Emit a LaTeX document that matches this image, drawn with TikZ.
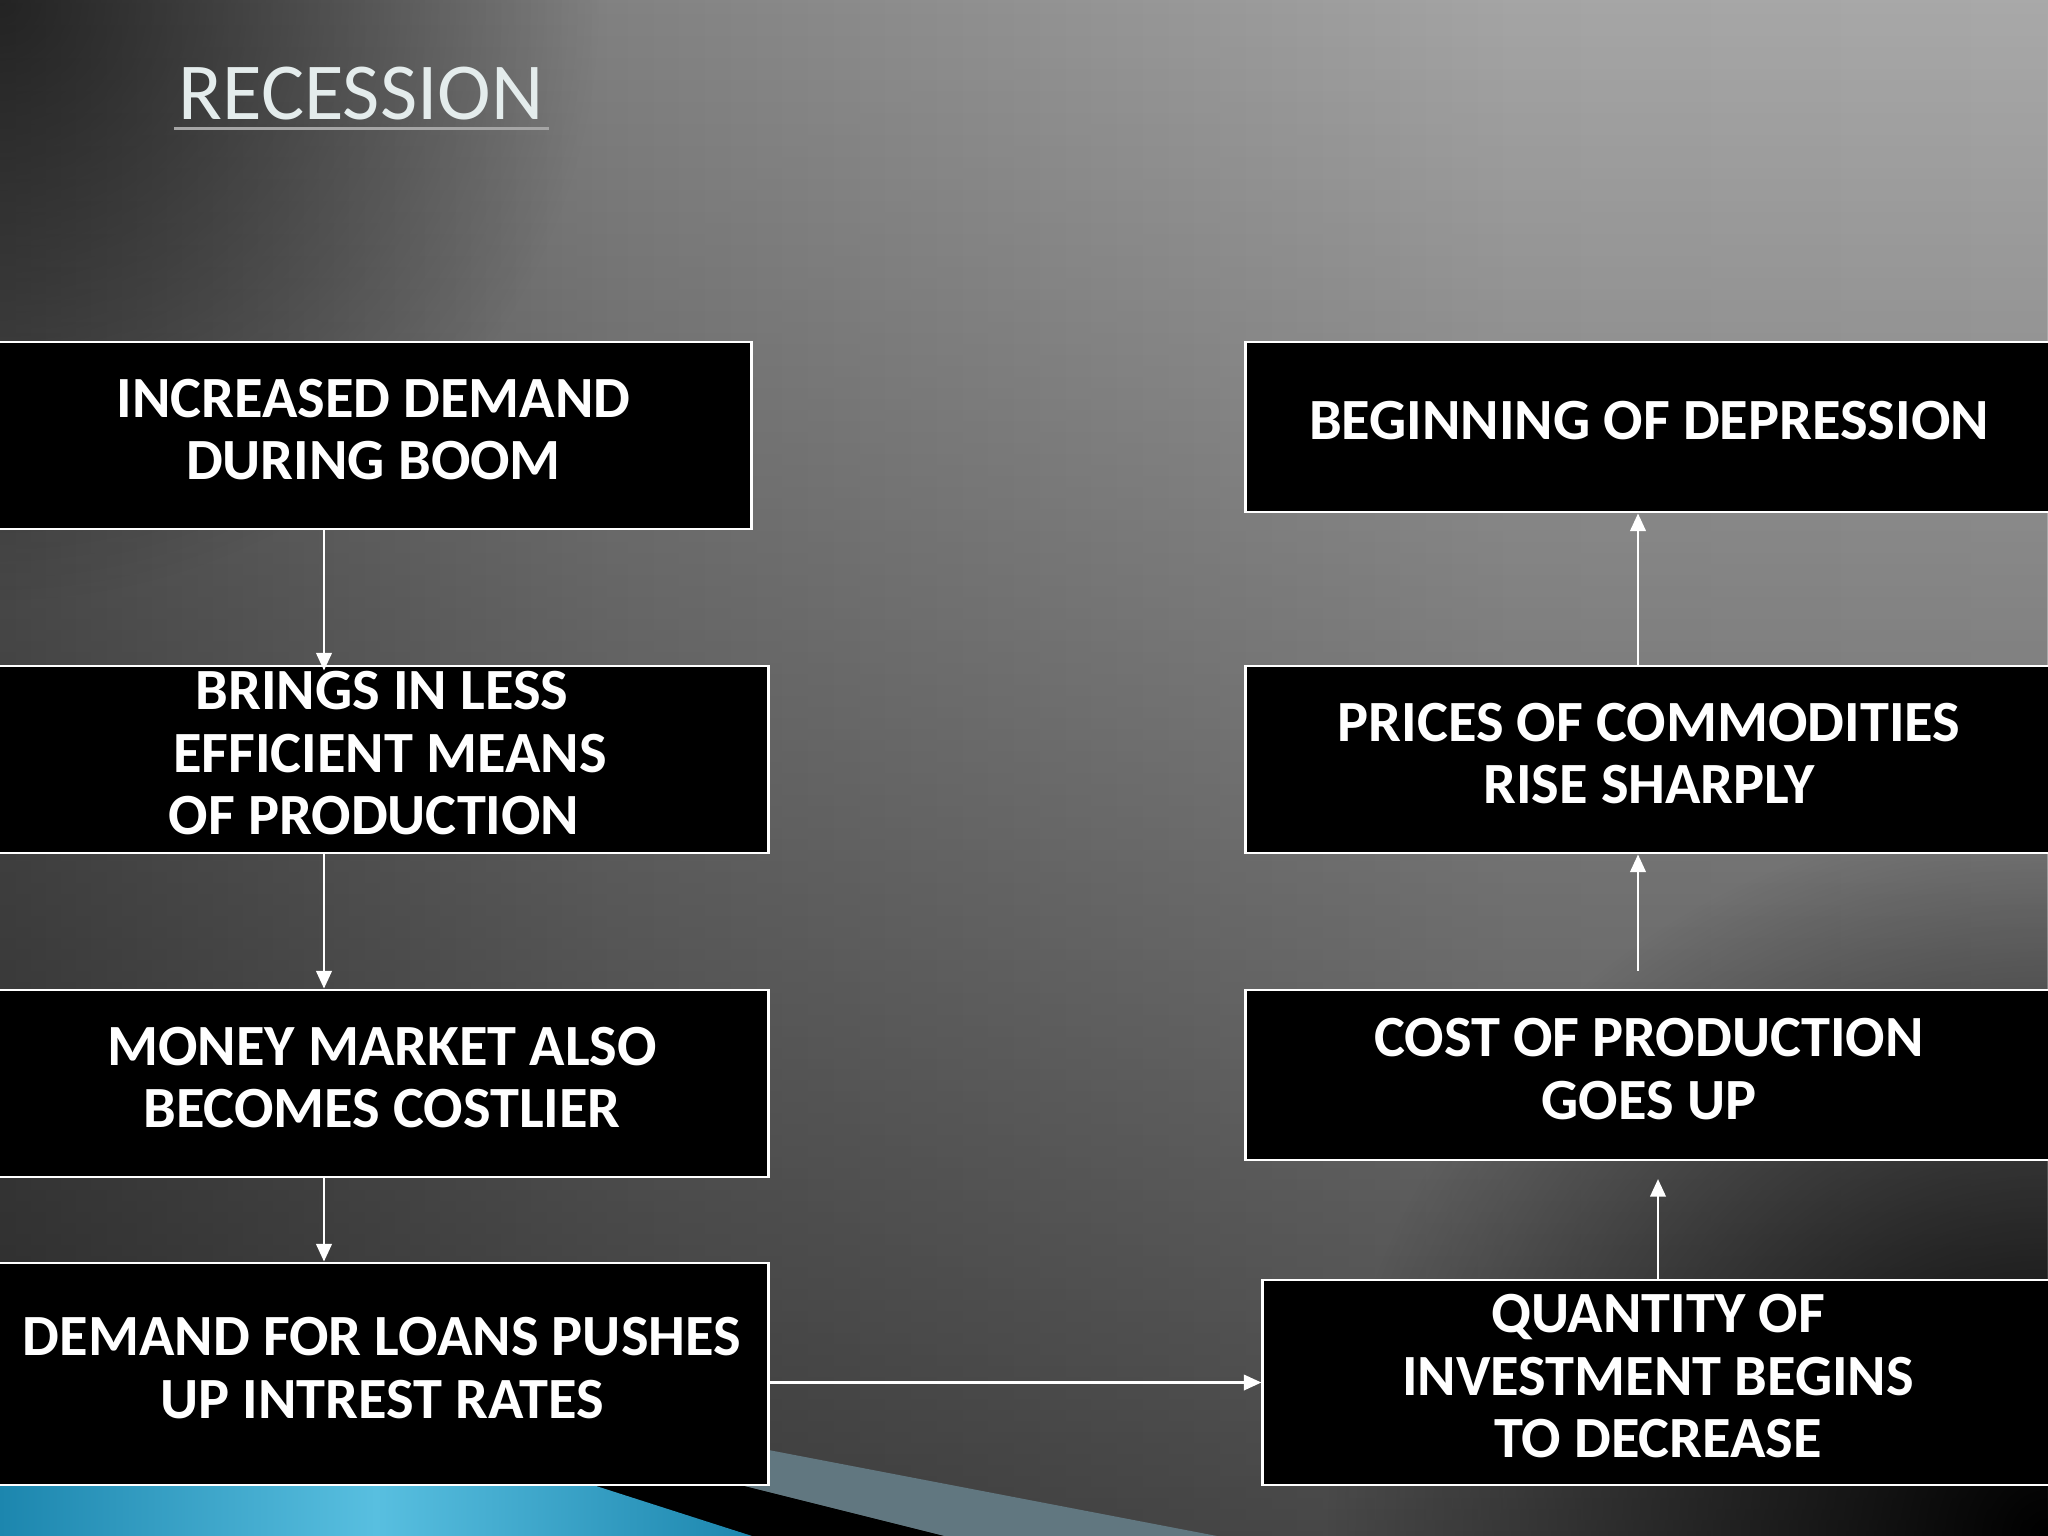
\documentclass[tikz,border=0pt]{standalone}
\usepackage{fontspec}
\setmainfont{Carlito}
\usetikzlibrary{arrows.meta,fadings}

\definecolor{bgdark}{HTML}{141414}
\definecolor{bgmidA}{HTML}{4C4C4C}
\definecolor{bgmidB}{HTML}{828282}
\definecolor{bglight}{HTML}{A5A5A5}
\definecolor{bgedge}{HTML}{B1B1B1}
\definecolor{blueedge}{HTML}{1C86AE}
\definecolor{bluelight}{HTML}{58BFE0}
\definecolor{tealband}{HTML}{617780}
\definecolor{titlegrey}{HTML}{E4ECEC}

\pgfdeclarehorizontalshading{slidebg}{100bp}{color(0bp)=(bgdark); color(20bp)=(bgmidA); color(40bp)=(bgmidB); color(62bp)=(bglight); color(100bp)=(bgedge)}
\tikzfading[name=fadedown, top color=transparent!100, middle color=transparent!88, bottom color=transparent!45]
\tikzfading[name=cornerfade, inner color=transparent!0, outer color=transparent!100]

\newcommand{\boxfont}{\fontsize{16.6}{17.8}\selectfont\bfseries}

\tikzset{
	stepbox/.style={draw=white, line width=0.8pt, fill=black, text=white, align=center, inner sep=0pt, text depth=3.6pt, font=\boxfont},
	flow/.style={draw=white, line width=0.7pt, -{Triangle[length=5pt,width=4.4pt]}},
	titletext/.style={text=titlegrey, inner sep=0pt, font=\fontsize{23}{26}\selectfont},
	titlerule/.style={draw=bglight, line width=0.8pt}
}

\begin{document}
\begin{tikzpicture}[x=0.01cm,y=-0.01cm]
	\useasboundingbox (0,0) rectangle (2048,1536);
	\clip (0,0) rectangle (2048,1536);

	%%% background
	\shade[shading=slidebg] (0,0) rectangle (2048,1536);
	\fill[black, path fading=fadedown] (0,0) rectangle (2048,1536);
	\fill[black, path fading=cornerfade] (2048,1536) circle[radius=720];
	\fill[black, path fading=cornerfade, fill opacity=0.6] (0,0) circle[radius=600];
	\fill[tealband] (560,1410) -- (1217,1536) -- (944,1536) -- (560,1440) -- cycle;
	\fill[black] (560,1440) -- (944,1536) -- (752,1536) -- (560,1477) -- cycle;
	\shade[left color=blueedge, right color=blueedge, middle color=bluelight] (0,1485) -- (593,1485) -- (752,1536) -- (0,1536) -- cycle;

	%%% title
	\node[titletext, anchor=base west] (title) at (178,119) {RECESSION};
	\draw[titlerule] ([xshift=-1pt,yshift=-2.8pt]title.base west) -- ([xshift=1.5pt,yshift=-2.8pt]title.base east);

	%%% left column
	\node[stepbox, minimum width=7.55cm, minimum height=1.87cm] (boom) at (373.5,435.5) {INCREASED DEMAND\\DURING BOOM};
	\node[stepbox, minimum width=7.72cm, minimum height=1.87cm] (means) at (382,759.5) {BRINGS IN LESS\\\hspace*{0.27em}EFFICIENT MEANS\\OF PRODUCTION\hspace*{0.27em}};
	\node[stepbox, minimum width=7.72cm, minimum height=1.87cm] (money) at (382,1083.5) {MONEY MARKET ALSO\\BECOMES COSTLIER};
	\node[stepbox, minimum width=7.72cm, minimum height=2.22cm] (loans) at (382,1374) {DEMAND FOR LOANS PUSHES\\UP INTREST RATES};

	%%% right column
	\node[stepbox, minimum width=8.06cm, minimum height=1.70cm] (depress) at (1649,427) {BEGINNING OF DEPRESSION};
	\node[stepbox, minimum width=8.06cm, minimum height=1.87cm] (prices) at (1649,759.5) {PRICES OF COMMODITIES\\RISE SHARPLY};
	\node[stepbox, minimum width=8.06cm, minimum height=1.70cm] (cost) at (1649,1075) {COST OF PRODUCTION\\GOES UP};
	\node[stepbox, minimum width=7.9cm, minimum height=2.05cm] (invest) at (1658,1382.5) {QUANTITY OF\\INVESTMENT BEGINS\\TO DECREASE};

	%%% arrows
	\coordinate (lane) at (324,0);
	\coordinate (rlane) at (1638,0);
	\draw[flow, shorten >=-1.7pt] (boom.south -| lane) -- (means.north -| lane);
	\draw[flow] (means.south -| lane) -- (money.north -| lane);
	\draw[flow] (money.south -| lane) -- (loans.north -| lane);
	\draw[flow] (loans.east |- invest.west) -- (invest.west);
	\draw[flow, shorten >=5pt] (invest.north) -- (cost.south -| invest.north);
	\draw[flow, shorten <=5pt] (cost.north -| rlane) -- (prices.south -| rlane);
	\draw[flow] (prices.north -| rlane) -- (depress.south -| rlane);

\end{tikzpicture}
\end{document}
